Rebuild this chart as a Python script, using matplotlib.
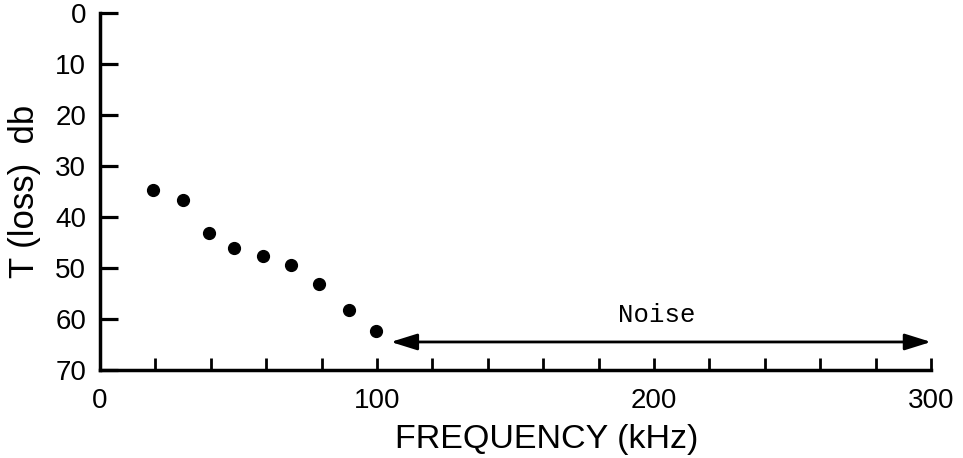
import matplotlib
matplotlib.use("Agg")
import matplotlib.pyplot as plt

# puntos medidos (frecuencia en kHz, perdida en db)
freq = [19, 30, 39.5, 48.5, 59, 69, 79, 90, 99.5]
loss = [34.7, 36.7, 43.2, 46.1, 47.6, 49.4, 53.1, 58.2, 62.3]

# banda de ruido
noise_start = 105
noise_end = 300
noise_level = 64.5
noise_label = "Noise"

x_ticks = list(range(0, 301, 20))
x_ticklabels = ["0", "", "", "", "", "100", "", "", "", "", "200", "", "", "", "", "300"]
y_ticks = [0, 10, 20, 30, 40, 50, 60, 70]


def run():
    plt.rcParams["font.family"] = ["Liberation Sans", "DejaVu Sans"]
    fig = plt.figure(figsize=(9.63, 4.58), dpi=100)
    ax = fig.add_axes([0.1038, 0.1921, 0.8630, 0.7795])

    ax.plot(freq, loss, "o", color="black", markersize=8.5)

    # flecha doble del ruido
    ax.annotate("", xy=(noise_start, noise_level), xytext=(noise_end, noise_level),
                arrowprops=dict(arrowstyle="<|-|>,head_length=0.8,head_width=0.25",
                                color="black", lw=2, shrinkA=0, shrinkB=0,
                                mutation_scale=20))
    ax.text(201, 59.2, noise_label, family="Liberation Mono", fontsize=18.5,
            ha="center", va="center")

    ax.set_xlim(0, 300)
    ax.set_ylim(70, 0)

    for s in ["top", "right"]:
        ax.spines[s].set_visible(False)
    for s in ["left", "bottom"]:
        ax.spines[s].set_linewidth(2.5)

    ax.set_xticks(x_ticks)
    ax.set_xticklabels(x_ticklabels)
    ax.set_yticks(y_ticks)
    ax.tick_params(axis="x", direction="in", length=9, width=2, labelsize=20, pad=13)
    ax.tick_params(axis="y", direction="in", length=13, width=2.3, labelsize=20, pad=10)

    ax.set_xlabel("FREQUENCY (kHz)", fontsize=24.5)
    ax.xaxis.set_label_coords(0.537, -0.152)
    ax.set_ylabel("T (loss)  db", fontsize=25, va="center")
    ax.yaxis.set_label_coords(-0.091, 0.5)

    plt.savefig("out.png", dpi=100)


if __name__ == "__main__":
    run()
